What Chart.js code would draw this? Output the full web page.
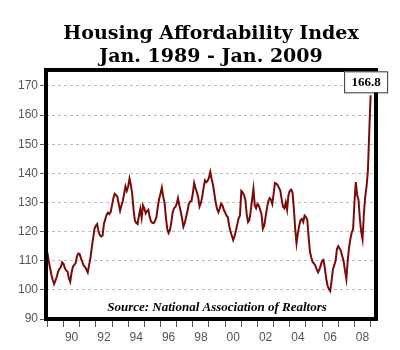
<!DOCTYPE html>
<html>
<head>
<meta charset="utf-8">
<title>Housing Affordability Index</title>
<script src="https://cdn.jsdelivr.net/npm/chart.js@4"></script>
<style>
  html, body { margin: 0; padding: 0; background: #fff; }
  #wrap { width: 400px; height: 350px; }
</style>
</head>
<body>
<div id="wrap"><canvas id="hai"></canvas></div>
<script>
// Monthly index, Jan 1989 .. Jan 2009 (one row per year)
const haiValues = [
  112.9, 110, 107.5, 105.2, 103.5, 102, 103.2, 104.5, 106.3, 107.2, 107.8, 109.5, // 1989
  109, 107.5, 106.6, 106.3, 104, 102.8, 106, 108, 108.6, 109.2, 111.5, 112.5,     // 1990
  112.3, 110.8, 109.5, 108.3, 107.8, 107, 106, 108.5, 111, 114.5, 117.8, 121,     // 1991
  122, 122.6, 120, 118.8, 118.3, 118.6, 122.6, 124.2, 125.8, 126.5, 126, 126.7,   // 1992
  129, 131.5, 133, 132.6, 131.9, 129.5, 127.2, 129, 130.5, 133, 135.5, 134,       // 1993
  135.5, 138.2, 136, 133, 127.5, 123.8, 123, 122.6, 125.5, 127.8, 124.7, 129,     // 1994
  128, 126.3, 127, 127.5, 125, 123.5, 123, 122.9, 123.8, 125, 128.5, 131.3,       // 1995
  133, 135.1, 132, 130, 125, 121, 119.5, 120.5, 123, 126.5, 128, 128.4,           // 1996
  129.5, 131.5, 129, 127, 124.5, 121.7, 123, 125, 127, 129.5, 130.3, 130.5,       // 1997
  133, 136.7, 135, 133.5, 131.8, 128.6, 129.8, 132, 135, 137.6, 137, 137.5,       // 1998
  138.5, 140.5, 138, 136, 133, 130, 127.8, 126.7, 128, 129.6, 129, 127.5,         // 1999
  126.5, 125.5, 125, 122, 120, 118.5, 117.1, 118.5, 120.3, 122.5, 124.6, 125.5,   // 2000
  134, 133.5, 132.5, 131, 126, 123.3, 124, 127, 131, 134.7, 129, 128,             // 2001
  129.5, 129, 127.5, 126, 121, 122, 125, 128, 130.3, 131.5, 131, 129.5,           // 2002
  133, 136.7, 136.5, 136, 135, 134, 131, 128.5, 128, 130, 127.5, 132.5,           // 2003
  134, 134.4, 133.5, 128, 121, 116, 119.5, 122, 124, 124.4, 123.3, 125.5,         // 2004
  125, 124, 118, 113, 111, 109.6, 109, 108.3, 107, 106, 107, 108.5,               // 2005
  110, 110.3, 107.5, 104, 101.5, 100.3, 99.6, 103, 107, 108.5, 110, 114,          // 2006
  115, 114.2, 113.3, 111.5, 109.8, 106.5, 103.7, 110, 114.5, 117.5, 119.8, 120.8, // 2007
  130, 137, 132.5, 131, 124.5, 120, 117.4, 126, 132, 135.5, 141, 154.2,           // 2008
  166.8                                                                            // Jan 2009
];

const yTicks = [90, 100, 110, 120, 130, 140, 150, 160, 170];
const tickLabels = ['90', '92', '94', '96', '98', '00', '02', '04', '06', '08'];
const lastLabel = '166.8';

// thick black frame, source note and the value box
const framePlugin = {
  id: 'frame',
  afterDraw(chart) {
    const { ctx, chartArea: a, scales } = chart;
    ctx.save();
    ctx.strokeStyle = '#000';
    ctx.lineWidth = 4;
    ctx.strokeRect(a.left, a.top, a.right - a.left, a.bottom - a.top);

    ctx.fillStyle = '#000';
    ctx.font = 'italic bold 13px "Liberation Serif"';
    ctx.textAlign = 'center';
    ctx.textBaseline = 'alphabetic';
    ctx.fillText('Source: National Association of Realtors', (a.left + a.right) / 2 + 6, a.bottom - 8);

    const last = haiValues.length - 1;
    const px = scales.x.getPixelForValue(last);
    const py = scales.y.getPixelForValue(haiValues[last]);
    const w = 43, h = 21;
    const bx = px - 5 - w / 2, by = py - 3 - h;
    ctx.fillStyle = '#fff';
    ctx.fillRect(bx, by, w, h);
    ctx.strokeStyle = '#333';
    ctx.lineWidth = 1;
    ctx.strokeRect(bx + 0.5, by + 0.5, w, h);
    ctx.fillStyle = '#000';
    ctx.font = 'bold 13px "Liberation Serif"';
    ctx.fillText(lastLabel, bx + w / 2 + 0.5, by + 15);
    ctx.restore();
  }
};

const ctx = document.getElementById('hai').getContext('2d');
new Chart(ctx, {
  type: 'line',
  data: {
    datasets: [{
      data: haiValues.map((v, i) => ({ x: i, y: v })),
      borderColor: '#7a0b0b',
      borderWidth: 2,
      pointRadius: 0,
      tension: 0
    }]
  },
  options: {
    responsive: true,
    maintainAspectRatio: false,
    animation: false,
    layout: { padding: { left: 0, right: 24, top: 0, bottom: 0 } },
    plugins: {
      legend: { display: false },
      tooltip: { enabled: false },
      title: {
        display: true,
        fullSize: false,
        text: ['Housing Affordability Index', 'Jan. 1989 - Jan. 2009'],
        color: '#000',
        font: { family: '"DejaVu Serif"', size: 19, weight: 'bold', lineHeight: 1.21 },
        padding: { top: 23, bottom: 1 }
      }
    },
    scales: {
      x: {
        type: 'linear',
        min: -1,
        max: 244,
        afterBuildTicks: s => {
          const t = [];
          for (let m = 0; m <= 240; m += 6) t.push({ value: m });
          s.ticks = t;
        },
        afterFit: s => { s.height = 31; },
        grid: {
          drawOnChartArea: false,
          tickLength: 8,
          tickWidth: 1,
          tickColor: c => (c.tick && c.tick.value % 12 === 0) ? '#555' : 'rgba(0,0,0,0)'
        },
        border: { display: false },
        ticks: {
          autoSkip: false,
          maxRotation: 0,
          padding: 3,
          color: '#555',
          font: { family: '"Liberation Sans"', size: 12 },
          callback: v => (v % 24 === 18) ? tickLabels[(v - 18) / 24] : ''
        }
      },
      y: {
        min: 90,
        max: 175.5,
        afterBuildTicks: s => { s.ticks = yTicks.map(v => ({ value: v })); },
        afterFit: s => { s.width = 46; },
        grid: {
          color: c => (c.tick && c.tick.value === 90) ? 'rgba(0,0,0,0)' : '#bdbdbd',
          lineWidth: 1,
          tickLength: 6,
          tickColor: '#555',
          tickBorderDash: [1, 0]
        },
        border: { display: false, dash: [3, 3] },
        ticks: {
          padding: 2,
          color: '#555',
          font: { family: '"Liberation Sans"', size: 12 }
        }
      }
    }
  },
  plugins: [framePlugin]
});
</script>
</body>
</html>
